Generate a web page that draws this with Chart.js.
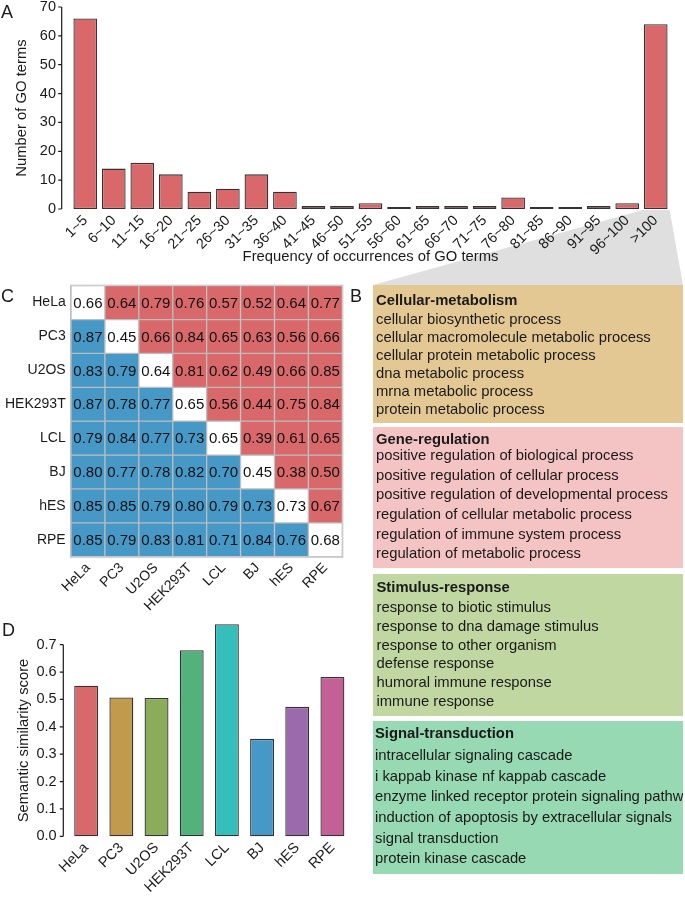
<!DOCTYPE html>
<html>
<head>
<meta charset="utf-8">
<script src="https://cdn.jsdelivr.net/npm/chart.js@4.4.1/dist/chart.umd.min.js"></script>
<style>
body { margin: 0; background: #fff; }
#page { position: relative; width: 685px; height: 898px; overflow: hidden; font-family: "Liberation Sans", Arial, sans-serif; color: #1a1a1a; }
canvas { position: absolute; }
.lbl { position: absolute; font-size: 18px; line-height: 18px; }
.box { position: absolute; left: 373px; width: 310px; overflow: hidden; white-space: nowrap; font-size: 14.8px; box-sizing: border-box; }
.box .t { font-weight: bold; }
</style>
</head>
<body>
<div id="page">
  <canvas id="bg" width="685" height="898" style="left:0;top:0"></canvas>
  <canvas id="chA" width="685" height="270" style="left:0;top:0"></canvas>
  <canvas id="chC" width="365" height="350" style="left:0;top:270px"></canvas>
  <canvas id="chD" width="365" height="298" style="left:0;top:600px"></canvas>
  <div class="lbl" style="left:1px;top:3px">A</div>
  <div class="lbl" style="left:350px;top:287px">B</div>
  <div class="lbl" style="left:1px;top:287px">C</div>
  <div class="lbl" style="left:2px;top:621px">D</div>
  <div id="boxes"></div>
</div>
<script>
// panel A
const freqBins = ['1~5', '6~10', '11~15', '16~20', '21~25', '26~30', '31~35', '36~40', '41~45', '46~50',
  '51~55', '56~60', '61~65', '66~70', '71~75', '76~80', '81~85', '86~90', '91~95', '96~100', '>100'];
const goCounts = [66, 14, 16, 12, 6, 7, 12, 6, 1, 1, 2, 0, 1, 1, 1, 4, 0, 0, 1, 2, 64];
const countTicks = [0, 10, 20, 30, 40, 50, 60, 70];

// panel C
const cellLines = ['HeLa', 'PC3', 'U2OS', 'HEK293T', 'LCL', 'BJ', 'hES', 'RPE'];
const simHeLa = [0.66, 0.64, 0.79, 0.76, 0.57, 0.52, 0.64, 0.77];
const simPC3 = [0.87, 0.45, 0.66, 0.84, 0.65, 0.63, 0.56, 0.66];
const simU2OS = [0.83, 0.79, 0.64, 0.81, 0.62, 0.49, 0.66, 0.85];
const simHEK293T = [0.87, 0.78, 0.77, 0.65, 0.56, 0.44, 0.75, 0.84];
const simLCL = [0.79, 0.84, 0.77, 0.73, 0.65, 0.39, 0.61, 0.65];
const simBJ = [0.80, 0.77, 0.78, 0.82, 0.70, 0.45, 0.38, 0.50];
const simhES = [0.85, 0.85, 0.79, 0.80, 0.79, 0.73, 0.73, 0.67];
const simRPE = [0.85, 0.79, 0.83, 0.81, 0.71, 0.84, 0.76, 0.68];

// panel D
const semScores = [0.55, 0.507, 0.505, 0.68, 0.775, 0.356, 0.473, 0.582];
const semTicks = [0, 0.1, 0.2, 0.3, 0.4, 0.5, 0.6, 0.7];

// panel B
const groupNames = ['Cellular-metabolism', 'Gene-regulation', 'Stimulus-response', 'Signal-transduction'];
const termsMetabolism = ['cellular biosynthetic process', 'cellular macromolecule metabolic process',
  'cellular protein metabolic process', 'dna metabolic process', 'mrna metabolic process', 'protein metabolic process'];
const termsRegulation = ['positive regulation of biological process', 'positive regulation of cellular process',
  'positive regulation of developmental process', 'regulation of cellular metabolic process',
  'regulation of immune system process', 'regulation of metabolic process'];
const termsStimulus = ['response to biotic stimulus', 'response to dna damage stimulus', 'response to other organism',
  'defense response', 'humoral immune response', 'immune response'];
const termsSignal = ['intracellular signaling cascade', 'i kappab kinase nf kappab cascade',
  'enzyme linked receptor protein signaling pathway', 'induction of apoptosis by extracellular signals',
  'signal transduction', 'protein kinase cascade'];

const simMatrix = [simHeLa, simPC3, simU2OS, simHEK293T, simLCL, simBJ, simhES, simRPE];
const groupTerms = [termsMetabolism, termsRegulation, termsStimulus, termsSignal];

const RED = '#D9686A';
const BLUE = '#4698C7';
const barColors = ['#D9686A', '#C29A4B', '#8BAC5A', '#53B17C', '#36BFBA', '#4698C7', '#9A6AAC', '#C36197'];
const INK = '#1a1a1a';

Chart.defaults.font.family = '"Liberation Sans", Arial, sans-serif';
Chart.defaults.color = INK;
Chart.defaults.plugins.legend.display = false;
Chart.defaults.plugins.tooltip.enabled = false;

// fixes the size of an axis box so the plot area lands where it should
function fixBox(w, h) {
  return (scale) => {
    if (w != null) scale.width = w;
    if (h != null) scale.height = h;
    scale.paddingLeft = scale.paddingRight = scale.paddingTop = scale.paddingBottom = 0;
  };
}
function setTicks(vals) {
  return (scale) => { scale.ticks = vals.map(v => ({ value: v })); };
}

// y axis drawn a bit left of the plot like in ggplot
const axisLine = {
  id: 'axisLine',
  afterDraw(chart, args, opts) {
    if (!opts || opts.offset == null) return;
    const { ctx, chartArea, scales: { y } } = chart;
    const x0 = chartArea.left - opts.offset;
    ctx.save();
    ctx.strokeStyle = INK;
    ctx.lineWidth = 1.2;
    ctx.beginPath();
    ctx.moveTo(x0, y.getPixelForValue(opts.top));
    ctx.lineTo(x0, y.getPixelForValue(0));
    y.ticks.forEach(t => {
      const py = y.getPixelForValue(t.value);
      ctx.moveTo(x0 - 3.5, py);
      ctx.lineTo(x0, py);
    });
    ctx.stroke();
    ctx.restore();
  }
};

const chartA = new Chart(document.getElementById('chA'), {
  type: 'bar',
  data: {
    labels: freqBins,
    datasets: [{
      data: goCounts,
      backgroundColor: RED,
      borderColor: '#333',
      borderWidth: 1.3,
      borderSkipped: false,
      minBarLength: 2,
      barPercentage: 0.83,
      categoryPercentage: 1
    }]
  },
  options: {
    responsive: false,
    animation: false,
    devicePixelRatio: 1,
    layout: { padding: { left: 0, right: 15, top: 7, bottom: 0 } },
    plugins: { axisLine: { offset: 9.3, top: 70 } },
    scales: {
      x: {
        grid: { display: false, drawTicks: false },
        border: { display: false },
        ticks: { autoSkip: false, minRotation: 45, maxRotation: 45, padding: 3, font: { size: 14.5 }, color: INK },
        title: { display: true, text: 'Frequency of occurrences of GO terms', font: { size: 14.8 }, color: INK, padding: { top: 0, bottom: 4 } },
        afterFit: fixBox(null, 61)
      },
      y: {
        min: 0, max: 70,
        grid: { display: false, drawTicks: false },
        border: { display: false },
        ticks: { padding: 15, font: { size: 14.5 }, color: INK },
        afterBuildTicks: setTicks(countTicks),
        title: { display: true, text: 'Number of GO terms', font: { size: 14.8 }, color: INK, padding: { top: 13, bottom: 0 } },
        afterFit: fixBox(71, null)
      }
    }
  },
  plugins: [axisLine]
});

const cellText = {
  id: 'cellText',
  afterDatasetsDraw(chart) {
    const { ctx, chartArea, scales: { x, y } } = chart;
    ctx.save();
    ctx.strokeStyle = '#bdbdbd';
    ctx.lineWidth = 1;
    ctx.strokeRect(chartArea.left - 0.5, chartArea.top - 0.5, chartArea.right - chartArea.left + 1, chartArea.bottom - chartArea.top + 1);
    ctx.fillStyle = '#111';
    ctx.font = '15px "Liberation Sans", Arial, sans-serif';
    ctx.textAlign = 'center';
    ctx.textBaseline = 'middle';
    simMatrix.forEach((row, r) => row.forEach((v, c) => {
      ctx.fillText(v.toFixed(2), x.getPixelForValue(c), y.getPixelForValue(r + 0.5) + 1);
    }));
    ctx.restore();
  }
};

new Chart(document.getElementById('chC'), {
  type: 'bar',
  data: {
    labels: cellLines,
    datasets: simMatrix.map((row, r) => ({
      data: row.map(() => [r, r + 1]),
      backgroundColor: row.map((v, c) => c === r ? '#ffffff' : (c > r ? RED : BLUE)),
      borderColor: '#bdbdbd',
      borderWidth: 1,
      borderSkipped: false,
      grouped: false,
      barPercentage: 1,
      categoryPercentage: 1
    }))
  },
  options: {
    responsive: false,
    animation: false,
    devicePixelRatio: 1,
    layout: { padding: { left: 0, right: 22.7, top: 15.7, bottom: 0 } },
    scales: {
      x: {
        grid: { display: false, drawTicks: false },
        border: { display: false },
        ticks: { autoSkip: false, minRotation: 45, maxRotation: 45, padding: 3, font: { size: 14 }, color: INK },
        afterFit: fixBox(null, 63.3)
      },
      y: {
        min: 0, max: 8, reverse: true,
        grid: { display: false, drawTicks: false },
        border: { display: false },
        afterBuildTicks: setTicks(cellLines.map((n, i) => i + 0.5)),
        ticks: { padding: 5.3, font: { size: 14 }, color: INK, callback: (v, i) => cellLines[i] },
        afterFit: fixBox(71, null)
      }
    }
  },
  plugins: [cellText]
});

new Chart(document.getElementById('chD'), {
  type: 'bar',
  data: {
    labels: cellLines,
    datasets: [{
      data: semScores,
      backgroundColor: barColors,
      borderColor: '#333',
      borderWidth: 1.3,
      borderSkipped: false,
      barPercentage: 0.68,
      categoryPercentage: 1,
      clip: false
    }]
  },
  options: {
    responsive: false,
    animation: false,
    devicePixelRatio: 1,
    layout: { padding: { left: 0, right: 15, top: 44.7, bottom: 0 } },
    plugins: { axisLine: { offset: 5.3, top: 0.7 } },
    scales: {
      x: {
        grid: { display: false, drawTicks: false },
        border: { display: false },
        ticks: { autoSkip: false, minRotation: 45, maxRotation: 45, padding: 3, font: { size: 14.5 }, color: INK },
        afterFit: fixBox(null, 61.7)
      },
      y: {
        min: 0, max: 0.7,
        grid: { display: false, drawTicks: false },
        border: { display: false },
        afterBuildTicks: setTicks(semTicks),
        ticks: { padding: 12, font: { size: 14.5 }, color: INK, callback: v => v.toFixed(1) },
        title: { display: true, text: 'Semantic similarity score', font: { size: 14.8 }, color: INK, padding: { top: 15, bottom: 0 } },
        afterFit: fixBox(68.6, null)
      }
    }
  },
  plugins: [axisLine]
});

// panel B boxes
const boxLayout = [
  { top: 285, height: 138, pad: 5, titleH: 20, lineH: 18, left: 3, color: '#E4C894' },
  { top: 427, height: 141, pad: 5, titleH: 14, lineH: 19.7, left: 3, color: '#F4C3C3' },
  { top: 574, height: 142, pad: 1.6, titleH: 22.7, lineH: 18.7, left: 3.5, color: '#C0D7A1' },
  { top: 721, height: 153, pad: 1.4, titleH: 22.5, lineH: 20.7, left: 2, color: '#97D9B3' }
];
const boxesEl = document.getElementById('boxes');
boxLayout.forEach((b, i) => {
  const d = document.createElement('div');
  d.className = 'box';
  d.style.top = b.top + 'px';
  d.style.height = b.height + 'px';
  d.style.background = b.color;
  d.style.paddingTop = b.pad + 'px';
  d.style.paddingLeft = b.left + 'px';
  const t = document.createElement('div');
  t.className = 't';
  t.textContent = groupNames[i];
  t.style.height = t.style.lineHeight = b.titleH + 'px';
  d.appendChild(t);
  groupTerms[i].forEach(term => {
    const l = document.createElement('div');
    l.textContent = term;
    l.style.height = l.style.lineHeight = b.lineH + 'px';
    d.appendChild(l);
  });
  if (i === 0) d.id = 'firstBox';
  boxesEl.appendChild(d);
});

// grey wedge from the ">100" bar to panel B
const bg = document.getElementById('bg').getContext('2d');
const lastBar = chartA.getDatasetMeta(0).data[freqBins.length - 1];
const boxRect = document.getElementById('firstBox').getBoundingClientRect();
const yTop = chartA.chartArea.bottom + 1;
bg.fillStyle = '#DFDFDF';
bg.beginPath();
bg.moveTo(lastBar.x - lastBar.width / 2 - 1, yTop);
bg.lineTo(lastBar.x + lastBar.width / 2 + 2, yTop);
bg.lineTo(boxRect.right, boxRect.top);
bg.lineTo(boxRect.left, boxRect.top);
bg.closePath();
bg.fill();
</script>
</body>
</html>
